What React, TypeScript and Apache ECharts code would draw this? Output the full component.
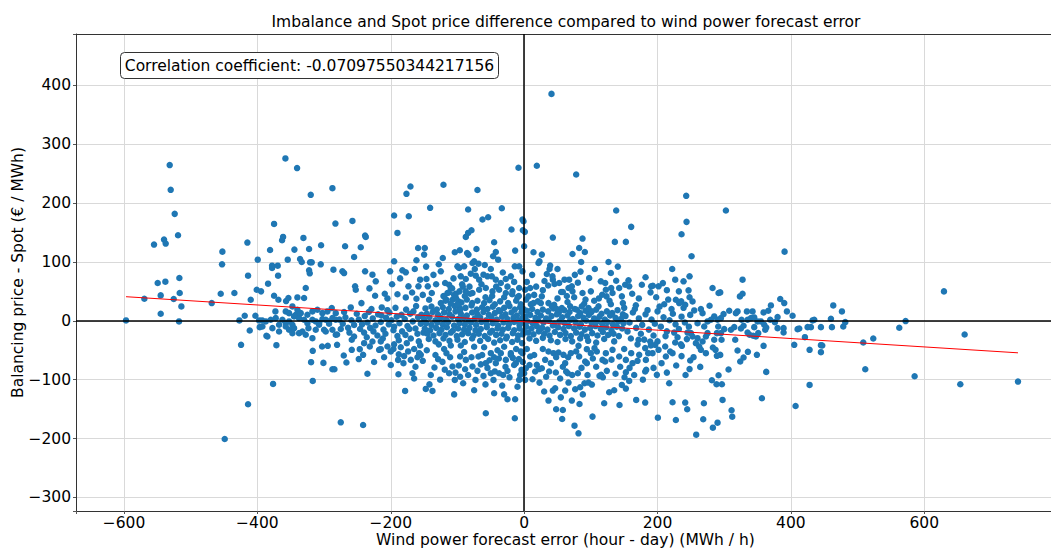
import React, { useEffect, useRef } from 'react';
import * as echarts from 'echarts';

const TITLE = 'Imbalance and Spot price difference compared to wind power forecast error';
const X_NAME = 'Wind power forecast error (hour - day) (MWh / h)';
const Y_NAME = 'Balancing price - Spot (€ / MWh)';
const CORR_TEXT = 'Correlation coefficient: -0.07097550344217156';

const xTicks = [-600, -400, -200, 0, 200, 400, 600];
const yTicks = [-300, -200, -100, 0, 100, 200, 300, 400];

// regression line end points
const fitX = [-597, 740.5];
const fitY = [40.9, -54.4];

const farLeftPts = [
  [-597, 0.6], [-569.5, 37.4], [-555, 129.4], [-549.5, 64.1], [-545, 43.1], [-545, 11.9], [-540, 137.9], [-537.5, 131.1],
  [-538, 66.4], [-531.5, 264.4], [-530, 222.4], [-525.5, 36.9], [-524, 181.6], [-519, 145.2], [-517, 72.6], [-516.5, 47.1],
  [-514, 24.4], [-517.5, -1.1], [-468.5, 30.1], [-455, 46], [-452.5, 117.4], [-453, 95.9], [-449, -200.8], [-434.5, 47.1],
  [-427, 0.6], [-424.5, -40.8], [-419, 8.5], [-415, 132.8], [-414, 76.6], [-414, -141.8], [-411.5, -16.4], [-410, 35.8],
  [-403, 8.5], [-399.5, 103.8], [-401, 52.8], [-396.5, -10.8], [-394.5, 50], [-393, 0.6], [-386.5, -25.5], [-384, 63],
  [-381, 120.3], [-378, 93.6], [-378, 89.6], [-376.5, -107.2], [-375, 164.5], [-375, 42.6], [-373, 15.9], [-371.5, -41.4],
  [-369.5, 93.6], [-369, 76.6], [-368.5, 35.8], [-363, 136.7], [-361.5, 142.4], [-358, 275.7], [-357, 33.5], [-354.5, 103.8],
  [-353.5, 38.6], [-344.5, 120.9], [-340.5, 259.3], [-340, 39.7], [-336, 105], [-333.5, 99.9], [-331, 140.7], [-327.5, 55.6],
  [-330, 38.6], [-322.5, 122], [-322.5, 85.7], [-321.5, 80.6], [-320, 213.9], [-321, 99.3], [-318.5, 99.3], [-319.5, -70.3],
  [-317, -51], [-317, -102.1], [-304.5, 128.2], [-305, 95.9], [-303, -43.7], [-301, -71.5], [-294.5, -42.5], [-287.5, 225.2],
  [-286, 86.8], [-283, 165.1], [-280.5, -23.2], [-280.5, -40.8], [-287.5, -82.2], [-284.5, -82.2],
];

const farLeftBand = [
  [-397.5, 0.6], [-387.5, -1.1], [-380, 1.7], [-372.5, 4.5], [-367.5, -6.8], [-362.5, 1.7], [-357.5, -4], [-352.5, -1.1],
  [-347.5, -6.8], [-342.5, 10.2], [-337.5, 4.5], [-330, 1.7], [-325, -4], [-317.5, 1.7], [-312.5, -1.1], [-307.5, -4],
  [-302.5, 2.8], [-297.5, 1.7], [-292.5, -1.1], [-287.5, 4.5], [-282.5, 1.7],
  [-392.5, -9.6], [-385, -26.6], [-377.5, -12.5], [-367.5, -18.1], [-357.5, -9.6], [-352.5, -15.3], [-347.5, -21], [-345, -12.5],
  [-337.5, -21], [-332.5, -18.1], [-327.5, -23.8], [-323.5, -12.5], [-317.5, -29.5], [-312.5, -15.3], [-307.5, -6.8], [-300, -15.3],
  [-297.5, -18.1], [-292.5, -5.1], [-287.5, -15.3], [-282.5, -23.8],
  [-347.5, 24.4], [-340, 18.7], [-357.5, 15.9], [-352.5, 13], [-345, 7.4], [-335, 13], [-325, 10.2], [-317.5, 15.9],
  [-310, 18.7], [-302.5, 13], [-295, 15.9], [-288.5, 21.6], [-282.5, 13],
];

const leftUpperPts = [
  [-8.5, 259.8], [-170.5, 228], [-176.5, 215.6], [-121, 231], [-70, 222], [-33.5, 191.2], [-84, 189], [-141, 191.8],
  [-195, 178.7], [-173, 177.6], [-190, 149.2], [-257.5, 169.6], [-238.5, 144.7], [-237.5, 142.4], [-268.5, 126.5], [-245, 124.8],
  [-255, 108.4], [-272.5, 84], [-270, 81], [-253.5, 58.5], [-252.5, 52.8], [-260, 22.7], [-238.5, 84], [-227.5, 78.3],
  [-222.5, 67], [-223.5, 42.6], [-209, 46], [-213.5, 22.7], [-201, 84], [-195, 101], [-182.5, 85.7], [-177.5, 82.3],
  [-173.5, 58.5], [-159, 123.7], [-149, 123.7], [-161.5, 102.7], [-150, 112.4], [-156, 69.8], [-146.5, 71], [-158.5, 58.5],
  [-144.5, 58.5], [-138.5, 47.1], [-142.5, 35.8], [-177.5, 39.7], [-161.5, 37.5], [-122, 106.7], [-125, 84], [-118.5, 64.1],
  [-112.5, 61.3], [-115, 47.1], [-110, 55.6], [-116.5, 35.8], [-107.5, 35.8], [-102.5, 46], [-120, 41.4], [-98.5, 33],
  [-96.5, 21.6], [-104, 116.3], [-96.5, 119.7], [-87.5, 142.4], [-84, 149.2], [-79, 153.8], [-100, 92.5], [-97.5, 89.7],
  [-90, 92.5], [-83.5, 112.4], [-85.5, 115.2], [-77.5, 98.2], [-75, 101], [-71.5, 122], [-68.5, 97], [-62.5, 171.9],
  [-54, 175.9], [-45, 133.3], [-42.5, 116.9], [-39, 103.8], [-46.5, 109.5], [-95, 75.5], [-87.5, 71], [-80, 80],
  [-72.5, 76.6], [-67.5, 69.8], [-61, 78.3], [-59, 94.7], [-55, 75.5], [-48.5, 75.5], [-42.5, 69.8], [-35, 64.1],
  [-27.5, 70.9], [-20, 75.5], [-14, 92.5], [-7.5, 92.5], [-2.5, 84], [-19, 155], [-13.5, 119.2], [-2.5, 171.9],
  [-1, 169], [-2, 153.8], [1, 151], [0, 126.5],
  [-87.5, 49.9], [-77.5, 47.1], [-67.5, 52.8], [-57.5, 55.6], [-47.5, 49.9], [-37.5, 52.8], [-27.5, 47.1], [-17.5, 49.9],
  [-7.5, 55.6],
  [-205, 38], [-198, 62], [-190, 45], [-186, 72], [-168, 48], [-164, 88], [-152, 44], [-147, 92], [-136, 78], [-132, 62],
  [-128, 96], [-106, 72], [-93, 62], [-82, 58], [-74, 88], [-64, 62], [-58, 40], [-50, 88], [-42, 58], [-32, 82],
  [-25, 58], [-15, 66], [-10, 40], [-232, 55], [-244, 30],
];

const leftLowerPts = [
  [-275, -172.4], [-241.5, -177], [-178.5, -119.1], [-147.5, -115.7], [-137.5, -119.1], [-188.5, -90.7], [-167.5, -89], [-189, -66.4],
  [-170, -66.4], [-157.5, -55], [-155, -57.8], [-217.5, -49.3], [-215, -48.2], [-205, -43.7], [-231.5, -43.7], [-227.5, -35.2],
  [-270.5, -59], [-266.5, -70.9], [-258.5, -49.3], [-246.5, -48.2], [-241.5, -57.8], [-258.5, -32.3], [-255, -26.6], [-129, -65.2],
  [-112.5, -89], [-104, -100.4], [-91.5, -106.1], [-88.5, -82.2], [-73, -100.4], [-61, -93.6], [-46, -100.4], [-45, -123.1],
  [-57.5, -157.1], [-25, -133.3], [-14, -165.6], [-13.5, -133.3], [-7.5, -100.4], [-4, -83.4], [0, -89], [-134.5, -79.4],
  [-122.5, -69.8], [-116.5, -55], [-107.5, -77.7], [-96, -60.7], [-87.5, -66.4], [-77.5, -77.7], [-68.5, -60.7], [-57.5, -72],
  [-50, -55], [-42.5, -72], [-35, -55], [-27.5, -66.4], [-20, -55], [-12.5, -72], [-2.5, -55],
  [-37.5, -89], [-31.5, -92], [-50, -89], [-65, -74], [-98, -76],
  [-196, -48], [-188, -57], [-181, -72], [-174, -52], [-163, -78], [-152, -68], [-146, -50], [-140, -92], [-133, -58], [-126, -100],
  [-119, -83], [-111, -62], [-103, -88], [-96, -95], [-90, -53], [-84, -92], [-79, -62], [-70, -85], [-63, -58], [-58, -108],
  [-52, -67], [-44, -86], [-38, -64], [-33, -110], [-28, -78], [-22, -96], [-17, -63], [-10, -112], [-6, -92], [-120, -48],
  [-142, -108], [-165, -98], [-200, -75], [-210, -62], [-225, -70], [-235, -90], [-248, -65], [-30, -125], [-75, -118], [-105, -125],
];

const bandLeft = [
  [-277, 2], [-272, -5], [-268, 6], [-264, -12], [-259, 1], [-255, -7], [-251, 12], [-270, 15], [-262, -20], [-275, -14],
  [-248, 2], [-243, -6], [-239, 8], [-235, -3], [-231, -12], [-227, 4], [-223, -8], [-219, 11], [-215, -2], [-211, -15],
  [-207, 5], [-203, -6], [-199, 1], [-195, -10], [-191, 7], [-187, -4], [-183, -18], [-179, 3], [-175, -9], [-171, 12],
  [-167, -1], [-163, -13], [-159, 6], [-155, -5], [-151, -20], [-246, -14], [-240, -20], [-233, 15], [-226, -18], [-220, -25],
  [-214, 9], [-208, -22], [-202, 14], [-196, -16], [-190, -26], [-184, 10], [-178, -24], [-172, -14], [-166, 16], [-160, -22],
  [-154, 10], [-236, -28], [-212, -30], [-188, -33], [-170, -30], [-158, -35], [-205, 18], [-229, 20], [-193, 22], [-177, 19],
  [-162, 25], [-195, -40], [-185, -45], [-176, -38], [-165, -48], [-156, -42], [-200, -52], [-215, -35], [-240, -38], [-180, -60],
  [-160, -62],
];

const bandCenter = [
  [-148, 21], [-139, 24], [-131, 19], [-122, 23], [-113, 20], [-104, 25], [-96, 18], [-88, 22], [-79, 26], [-71, 19],
  [-63, 23], [-55, 20], [-47, 24], [-38, 18], [-30, 22], [-22, 25], [-14, 19], [-6, 23], [-1, 20],
  [-146, 12], [-137, 15], [-129, 10], [-120, 14], [-112, 11], [-103, 16], [-95, 12], [-86, 9], [-78, 14], [-70, 11],
  [-61, 15], [-53, 10], [-44, 13], [-36, 16], [-28, 11], [-19, 14], [-11, 9], [-4, 15],
  [-150, 3], [-142, 6], [-133, 1], [-125, 5], [-117, 2], [-108, 7], [-99, 3], [-91, 5], [-83, 0], [-74, 4],
  [-66, 6], [-57, 1], [-49, 5], [-41, 2], [-33, 7], [-25, 3], [-16, 5], [-8, 1], [-2, 6],
  [-147, -4], [-139, -7], [-130, -3], [-122, -6], [-114, -2], [-105, -8], [-97, -4], [-89, -6], [-80, -3], [-72, -7],
  [-64, -2], [-56, -6], [-47, -4], [-39, -8], [-31, -3], [-23, -6], [-15, -2], [-7, -7], [0, -4],
  [-149, -13], [-141, -16], [-132, -12], [-124, -15], [-116, -11], [-107, -17], [-99, -13], [-90, -15], [-82, -12], [-73, -16],
  [-65, -14], [-56, -11], [-48, -17], [-40, -13], [-32, -15], [-24, -12], [-15, -16], [-7, -13], [-1, -18],
  [-145, -22], [-136, -25], [-127, -21], [-118, -24], [-110, -20], [-101, -26], [-93, -23], [-84, -21], [-76, -25], [-68, -22],
  [-59, -26], [-51, -20], [-42, -24], [-34, -22], [-26, -27], [-17, -21], [-9, -25], [-2, -23],
  [-143, -31], [-133, -35], [-121, -30], [-112, -34], [-100, -32], [-89, -36], [-78, -30], [-66, -34], [-54, -31], [-45, -37],
  [-36, -33], [-27, -30], [-18, -36], [-10, -32], [-3, -38],
  [-95, -42], [-60, -45], [-30, -44], [-12, -48], [-5, -52], [-20, -58], [-40, -50], [-75, -44], [-110, -42], [-128, -40],
  [-8, -65], [-15, -75], [-2, -70], [-25, -85], [-45, -62], [-55, -80],
  [-125, 30], [-118, 34], [-110, 29], [-102, 38], [-94, 31], [-86, 36], [-78, 30], [-70, 34], [-121, 42], [-113, 48],
  [-105, 44], [-97, 50], [-89, 42], [-81, 46], [-108, 55], [-92, 58], [-100, 28], [-60, 30], [-52, 35], [-44, 28],
  [-36, 33], [-24, 30], [-12, 34], [-5, 28], [-8, 42], [-18, 45], [-30, 40], [-48, 42],
];

const bandRight = [
  [4, 17], [12, 20], [20, 15], [28, 19], [36, 16], [44, 21], [52, 14], [60, 18], [68, 15], [76, 20],
  [84, 13], [92, 17], [100, 14], [108, 19], [116, 12], [124, 16], [132, 13], [140, 18], [148, 11],
  [2, 7], [9, 10], [17, 5], [25, 9], [33, 4], [41, 8], [49, 11], [57, 6], [65, 9], [73, 3],
  [81, 8], [89, 5], [97, 10], [105, 4], [113, 7], [121, 2], [129, 9], [137, 5], [145, 3],
  [5, -1], [13, -4], [21, 1], [29, -3], [37, 0], [45, -5], [53, -1], [61, -4], [69, 1], [77, -2],
  [85, -6], [93, 0], [101, -3], [109, -1], [117, -5], [125, -2], [133, -6], [141, -1], [149, -4],
  [3, -10], [11, -13], [19, -9], [27, -12], [35, -15], [43, -8], [51, -11], [59, -14], [67, -9], [75, -13],
  [83, -10], [91, -15], [99, -12], [107, -9], [115, -14], [123, -11], [131, -16], [139, -10], [147, -13],
  [6, -20], [14, -23], [22, -18], [30, -22], [38, -25], [46, -19], [54, -24], [62, -21], [70, -26], [78, -20],
  [86, -23], [94, -27], [102, -21], [110, -25], [118, -19], [126, -24], [134, -22], [142, -26],
  [8, -30], [18, -34], [28, -29], [40, -33], [50, -36], [62, -31], [72, -35], [84, -30], [96, -34], [108, -37],
  [120, -31], [135, -35],
  [10, 28], [25, 30], [45, 27], [65, 32], [90, 29], [105, 34], [130, 28], [3, 36], [15, 44], [50, 38], [75, 40],
  [152, 8], [158, -3], [163, 14], [168, -12], [172, 4], [177, -7], [182, 11], [187, -15], [191, 2], [196, -5],
  [200, 16], [205, -10], [209, 6], [214, -18], [218, 1], [223, 12], [227, -6], [232, -14], [236, 7], [241, -3],
  [245, -20], [249, 10], [155, -18], [166, 20], [175, -22], [185, 18], [194, -25], [203, 24], [212, -26], [221, 20],
  [230, -28], [239, 22], [247, -10], [160, -30], [180, -32], [200, -35], [225, -20], [150, 22], [170, -40], [190, -42],
  [210, 28], [235, -40],
];

const rightUpperPts = [
  [41, 385.3], [19, 263.3], [78, 248.5], [43, 141.3], [14, 116.4], [23, 101.1], [26.5, 112.4], [21.5, 98.2],
  [39, 93.7], [38, 88], [34, 79.5], [30.5, 67.6], [45.5, 62.5], [43, 69.8], [60.5, 69.8], [55.5, 48.9],
  [58, 48.9], [66.5, 55.7], [71.5, 58.5], [80.5, 64.7], [72.5, 113.5], [82.5, 123.7], [87.5, 139.6], [91, 116.9],
  [85.5, 99.9], [84.5, 83.5], [138, 187.3], [243, 212.2], [243.5, 168], [236, 147], [251, 109.6],
  [9, 55.7], [1.5, 52.8], [6.5, 41.5], [14, 30.1], [20.5, 33], [26.5, 41.5], [36.5, 30.1], [41.5, 24.5],
  [49, 19.9], [56.5, 21.6], [69, 24.5], [79, 18.8], [86.5, 24.5], [96.5, 21.6], [101.5, 16], [111.5, 24.5],
  [115, 67], [121.5, 64.2], [117, 44.3], [123.5, 41.5], [130.5, 55.7], [132.5, 47.2], [142.5, 55.7], [146.5, 41.5],
  [151.5, 61.3], [156.5, 68.7], [157.5, 58.5], [167.5, 26.2], [176.5, 61.3], [190.5, 58.5], [193, 59.6], [201.5, 58.5],
  [189.5, 48.3], [226.5, 69.8], [239, 67], [246.5, 51.7], [235.5, 33], [227.5, 35.8], [241.5, 27.3],
  [126.5, 99.9], [130, 81.2], [140.5, 92], [136, 134], [152.5, 134], [160.5, 159.5], [232.5, 30.1],
  [42.5, 75.5], [52.5, 64.1], [67.5, 69.8], [72.5, 50], [87.5, 47.1], [97.5, 72.6], [122.5, 52.8],
  [4, 66], [12, 78], [18, 58], [28, 52], [36, 60], [50, 88], [64, 42], [76, 78], [92, 36], [100, 50],
  [106, 88], [112, 38], [128, 34], [138, 68], [148, 30], [162, 46], [172, 38], [182, 74], [198, 40], [208, 64],
  [216, 36], [222, 88], [232, 50], [248, 40], [214, 52],
];

const rightLowerPts = [
  [81.5, -191.1], [75.5, -178.1], [57, -166.7], [58, -151.4], [48, -150.3], [102.5, -162.7], [36.5, -135.5], [71.5, -135.5],
  [83, -141.2], [43, -118.5], [46.5, -114.5], [61.5, -118.5], [66.5, -104.9], [76.5, -116.2], [84, -112.8], [90.5, -106],
  [96.5, -104.9], [101.5, -108.3], [127.5, -121.3], [143, -142.9], [146.5, -108.9], [152.5, -115.1], [157.5, -102.1], [168, -134.4],
  [181.5, -138.9], [200.5, -164.5], [199, -91.8], [217.5, -106], [222.5, -138.3], [227.5, -168.4], [241.5, -138.9], [244.5, -150.3],
  [181.5, -86.2], [183, -83.3], [160.5, -55], [152.5, -87.3], [150.5, -95.8], [121.5, -69.1], [115.5, -91.8], [113, -93.5],
  [91.5, -69.1], [94, -72], [109, -52.1], [105.5, -46.5], [94, -48.2], [81.5, -42.5], [80.5, -89], [65.5, -89],
  [63, -86.2], [51.5, -53.8], [59, -57.8], [61.5, -72], [44, -55], [36.5, -52.1], [31.5, -66.3], [26.5, -80.5],
  [19, -74.8], [16.5, -86.2], [12.5, -99.2], [1.5, -100.3], [2.5, -80.5], [9, -60.6],
  [244, -31.1], [236.5, -42.5], [226.5, -36.8], [219, -52.1], [211.5, -43.6], [201.5, -49.3], [196.5, -40.8], [189, -35.1],
  [181.5, -46.4], [171.5, -32.3],
  [70, -55], [82.5, -60.7], [100, -55], [117.5, -66.4], [122.5, -55], [132.5, -49.3], [142.5, -60.7], [152.5, -66.4],
  [162.5, -72], [172.5, -57.8], [182.5, -66.4], [192.5, -55], [212.5, -60.7], [222.5, -55],
  [47.5, -87.9], [37.5, -86.2], [22.5, -82],
  [4, -48], [8, -75], [15, -58], [23, -105], [28, -48], [33, -95], [40, -72], [48, -62], [54, -98], [58, -78],
  [66, -62], [72, -92], [78, -52], [86, -80], [95, -92], [103, -64], [108, -78], [118, -96], [124, -85], [131, -66],
  [137, -90], [144, -78], [150, -48], [158, -80], [165, -92], [170, -68], [178, -100], [186, -55], [194, -80], [206, -72],
  [214, -88], [228, -76], [236, -60], [242, -92], [248, -82], [30, -120], [55, -130], [88, -125], [120, -140], [135, -118],
];

const farRightPts = [
  [302.5, 187.2], [390.5, 117.4], [248, 75.5], [327.5, 69.8], [282.5, 55.6], [291.5, 47.1], [294, 48.2], [323.5, 41.4],
  [327.5, 46], [384, 36.9], [390, 30.1], [252.5, 32.9], [278, 25.5], [370, 26.1], [394, 15.9], [402.5, 8.5],
  [463.5, 26.1], [476.5, 15.9], [460, 3.4], [481.5, -2.3], [478.5, -9.6], [461.5, -10.8], [445, -10.8], [447, -42],
  [445, -41.4], [445, -53.3], [432.5, 0.6], [435, 1.7], [425, -10.8], [430, -10.8], [410, -14.2], [412.5, -13],
  [421, -27.8], [428, -49.3], [428, -108.9], [405, -40.8], [407, -144.6], [508.5, -36.9], [523.5, -30.1], [511.5, -82.2],
  [562.5, -11.9], [572, -0.5], [585.5, -94.2], [629.5, 49.9], [654, -107.8], [660.5, -23.2], [740.5, -103.2], [363, -86.8],
  [356.5, -131.6], [349, -57.8], [335.5, -52.7], [329, -62.4], [324, -69.2], [320, -50.5], [316.5, -32.3], [359, -42.5],
  [338, -23.8], [343.5, -25.5], [306.5, -82.8], [311, -152], [312, -162.8], [297.5, -134.4], [291.5, -92.5], [288.5, -107.8],
  [296.5, -107.8], [281.5, -101], [290, -173], [283, -181.5], [268.5, -167.3], [269.5, -140.1], [258, -193.4], [264, -78.3],
  [249, -67.5], [254, -61.8], [272.5, -55], [294, -57.9], [289, -59.5], [287, -49.3], [283, -45.4], [285, -32.3],
  [295, -21], [300, -14.2], [310, -15.3], [315, -10.8], [325, -13], [326, 1.7], [335, 1.7], [340, 4.5],
  [345, 5.7], [350, -1.1], [355, -1.1], [360, -6.8], [361.5, -15.3], [369, 1.7], [376, -2.3], [380, -12.5],
  [389, -12.5], [389, -19.8], [380, 6.3], [366, 17], [359, 14.2], [342.5, 15.9], [334, 15.9], [320, 15.9],
  [317.5, 13], [307.5, 17], [299, 11.4], [295, 4.5], [290, 1.7], [285, 7.4], [280, 1.7], [275, -1.1],
  [267.5, 13], [265, 19.9], [255, 17.6], [260, -4], [270, -9.6], [275, -21], [262.5, -43.7], [257.5, -38],
  [252.5, -26.6], [250, -21], [260, -29.5], [265, -49.3], [267.5, -35.2], [272.5, -26.6], [291, -9.6], [289, -21],
  [296, -32.3], [329, -8.5], [335, -19.8], [347.5, -26.6], [345, -10.8], [351, -21], [363, -11.3],
];

const FONT = 'DejaVu Sans';
const FS = 15.5;
const fmt = (v: number) => (v < 0 ? '\u2212' + Math.abs(v) : String(v));

export default function App() {
  const ref = useRef<HTMLDivElement>(null);
  useEffect(() => {
    if (!ref.current) return;
    const chart = echarts.init(ref.current, null, { renderer: 'svg' });
    const points = [
      ...farLeftPts, ...farLeftBand, ...leftUpperPts, ...leftLowerPts, ...bandLeft,
      ...bandCenter, ...bandRight, ...rightUpperPts, ...rightLowerPts, ...farRightPts,
    ];
    const fitData = fitX.map((x, i) => [x, fitY[i]]);
    const labelStyle = { fontSize: FS, fontFamily: FONT, color: '#000', lineHeight: 16 };
    chart.setOption({
      animation: false,
      backgroundColor: '#ffffff',
      grid: { left: 76, right: -4, top: 34, bottom: 37, containLabel: false, outerBoundsMode: 'none' },
      xAxis: [
        {
          type: 'value', min: -672, max: 796, splitNumber: 7,
          axisLine: { show: true, onZero: false, lineStyle: { color: '#333', width: 1 } },
          axisTick: { show: true, length: 3, lineStyle: { color: '#555' } },
          axisLabel: { ...labelStyle, margin: 4, formatter: (v: number) => (xTicks.includes(v) ? fmt(v) : '') },
          splitLine: { show: true, showMinLine: false, showMaxLine: false, lineStyle: { color: '#d9d9d9', width: 1 } },
          name: X_NAME, nameLocation: 'middle', nameGap: 21, nameMoveOverlap: false, nameTextStyle: labelStyle,
        },
        {
          type: 'value', position: 'top', min: -672, max: 796, splitNumber: 7,
          axisLine: { show: true, onZero: false, lineStyle: { color: '#333', width: 1 } },
          axisTick: { show: false }, axisLabel: { show: false }, splitLine: { show: false },
        },
      ],
      yAxis: {
        type: 'value', min: -323, max: 487, splitNumber: 8,
        axisLine: { show: true, onZero: false, lineStyle: { color: '#333', width: 1 } },
        axisTick: { show: true, length: 3, lineStyle: { color: '#555' } },
        axisLabel: { ...labelStyle, margin: 5, formatter: (v: number) => (yTicks.includes(v) ? fmt(v) : '') },
        splitLine: { show: true, showMinLine: false, showMaxLine: false, lineStyle: { color: '#d9d9d9', width: 1 } },
        name: Y_NAME, nameLocation: 'middle', nameRotate: 90, nameGap: 50, nameMoveOverlap: false, nameTextStyle: labelStyle,
      },
      series: [
        {
          type: 'scatter', data: points, symbolSize: 6.5, silent: true, z: 2,
          itemStyle: { color: '#1f77b4', opacity: 1 },
          markLine: {
            silent: true, symbol: 'none', z: 5,
            label: { show: false },
            lineStyle: { color: '#000', width: 1.5, type: 'solid' },
            data: [{ xAxis: 0 }, { yAxis: 0 }],
          },
        },
        {
          type: 'line', data: fitData, symbol: 'none', showSymbol: false, silent: true, z: 6,
          lineStyle: { color: '#ff0000', width: 1 },
        },
      ],
      graphic: [
        {
          type: 'text', x: 566, y: 22, z: 100,
          style: { text: TITLE, font: `${FS}px "${FONT}"`, fill: '#000', align: 'center', verticalAlign: 'middle' },
        },
        {
          type: 'rect', z: 100,
          shape: { x: 120.5, y: 52.5, width: 378, height: 26, r: 4 },
          style: { fill: '#fff', stroke: '#333', lineWidth: 1 },
        },
        {
          type: 'text', x: 309.5, y: 66, z: 101,
          style: { text: CORR_TEXT, font: `${FS}px "${FONT}"`, fill: '#000', align: 'center', verticalAlign: 'middle' },
        },
      ],
    });
    return () => chart.dispose();
  }, []);
  return <div ref={ref} style={{ position: 'fixed', left: 0, top: 0, width: 1051, height: 548 }} />;
}
